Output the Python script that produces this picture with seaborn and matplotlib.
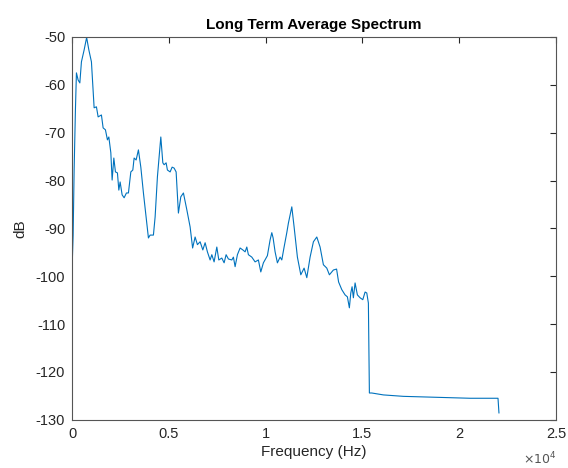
import numpy as np
import pandas as pd
import seaborn as sns
import matplotlib
matplotlib.use("Agg")
import matplotlib.pyplot as plt
from matplotlib.ticker import FuncFormatter

# Long term average spectrum (Hz, dB)
freq = [0, 52, 103, 170, 222, 310, 398, 480, 620, 749, 863, 997, 1136, 1255, 1343,
        1513, 1601, 1720, 1823, 1896, 1999, 2066, 2154, 2237, 2340, 2412, 2479, 2583,
        2686, 2805, 2908, 3032, 3135, 3202, 3306, 3424, 3548, 3683, 3822, 3941, 4029,
        4199, 4287, 4406, 4581, 4685, 4752, 4855, 4922, 5062, 5165, 5268, 5372, 5490,
        5614, 5749, 5924, 6095, 6224, 6353, 6472, 6611, 6751, 6870, 6988, 7128, 7216,
        7334, 7474, 7577, 7732, 7851, 7954, 8073, 8249, 8331, 8419, 8538, 8677, 8817,
        8936, 9023, 9106, 9281, 9452, 9622, 9746, 9880, 10087, 10227, 10315, 10382,
        10485, 10604, 10743, 10831, 10950, 11089, 11172, 11348, 11467, 11637, 11813,
        11983, 12123, 12293, 12464, 12639, 12809, 12980, 13155, 13290, 13496, 13661,
        13765, 13930, 14100, 14219, 14322, 14395, 14462, 14529, 14617, 14736, 14875,
        15015, 15134, 15221, 15304, 15356, 15480, 16079, 17112, 18837, 20557, 22000,
        22050]
db = [-98.0, -91.4, -77.8, -65.2, -57.5, -59.0, -59.6, -55.2, -52.7, -50.1, -52.7,
      -55.2, -64.8, -64.6, -66.7, -66.3, -69.0, -69.4, -71.5, -70.9, -74.2, -79.9,
      -75.3, -78.2, -78.4, -82.0, -80.3, -83.0, -83.6, -82.6, -82.6, -78.2, -77.8,
      -75.3, -75.7, -73.6, -77.2, -82.6, -87.6, -92.0, -91.4, -91.4, -87.6, -79.2,
      -70.9, -76.3, -76.7, -76.3, -77.8, -78.2, -77.2, -77.4, -78.2, -86.8, -83.4,
      -82.6, -86.1, -89.7, -94.1, -91.8, -93.4, -92.8, -94.5, -93.0, -94.9, -96.6,
      -95.5, -97.0, -93.9, -96.6, -96.2, -97.2, -95.5, -96.4, -96.6, -96.0, -98.0,
      -95.5, -94.1, -94.5, -94.9, -93.9, -95.5, -96.0, -97.0, -96.6, -99.1, -97.2,
      -95.7, -92.4, -90.9, -92.0, -94.9, -97.2, -96.0, -96.6, -93.9, -90.9, -88.9,
      -85.5, -89.7, -96.0, -99.7, -98.3, -100.3, -96.0, -92.8, -91.8, -93.9, -97.6,
      -98.3, -99.7, -98.7, -98.5, -101.2, -102.8, -103.9, -104.3, -106.6, -103.5,
      -102.2, -104.5, -101.4, -103.9, -104.5, -104.9, -103.3, -103.5, -105.6,
      -124.4, -124.4, -124.8, -125.1, -125.3, -125.5, -125.5, -128.6]

xticks = [0, 5000, 10000, 15000, 20000, 25000]
yticks = [-130, -120, -110, -100, -90, -80, -70, -60, -50]

df = pd.DataFrame({"Frequency": freq, "dB": db})

sns.set_style("white")
plt.rcParams['font.family'] = ['Liberation Sans', 'DejaVu Sans']
plt.rcParams['axes.unicode_minus'] = False

fig = plt.figure(figsize=(5.68, 4.68), dpi=100)
ax = fig.add_axes([0.127, 0.103, 0.852, 0.818])

sns.lineplot(data=df, x="Frequency", y="dB", ax=ax, color="#0072BD",
             linewidth=0.8, estimator=None, sort=False)

ax.set_xlim(0, 25000)
ax.set_ylim(-130, -50)
ax.set_xticks(xticks)
ax.set_yticks(yticks)
ax.xaxis.set_major_formatter(FuncFormatter(lambda v, p: f"{v / 1e4:g}"))

gray = "#262626"
ax.tick_params(direction="in", length=4, width=0.8, top=True, right=True,
               labelsize=10.5, colors=gray, pad=5)
for s in ax.spines.values():
    s.set_color("#555555")
    s.set_linewidth(0.8)

ax.set_xlabel("Frequency (Hz)", fontsize=11, color=gray, labelpad=3)
ax.set_ylabel("dB", fontsize=11, color=gray, labelpad=6)
ax.set_title("Long Term Average Spectrum", fontsize=11, fontweight="bold",
             color="black", pad=6)
ax.text(1.0, -0.08, r"$\times 10^{4}$", transform=ax.transAxes, ha="right",
        va="top", fontsize=9, color="#555555")

fig.savefig("out.png", dpi=100)
